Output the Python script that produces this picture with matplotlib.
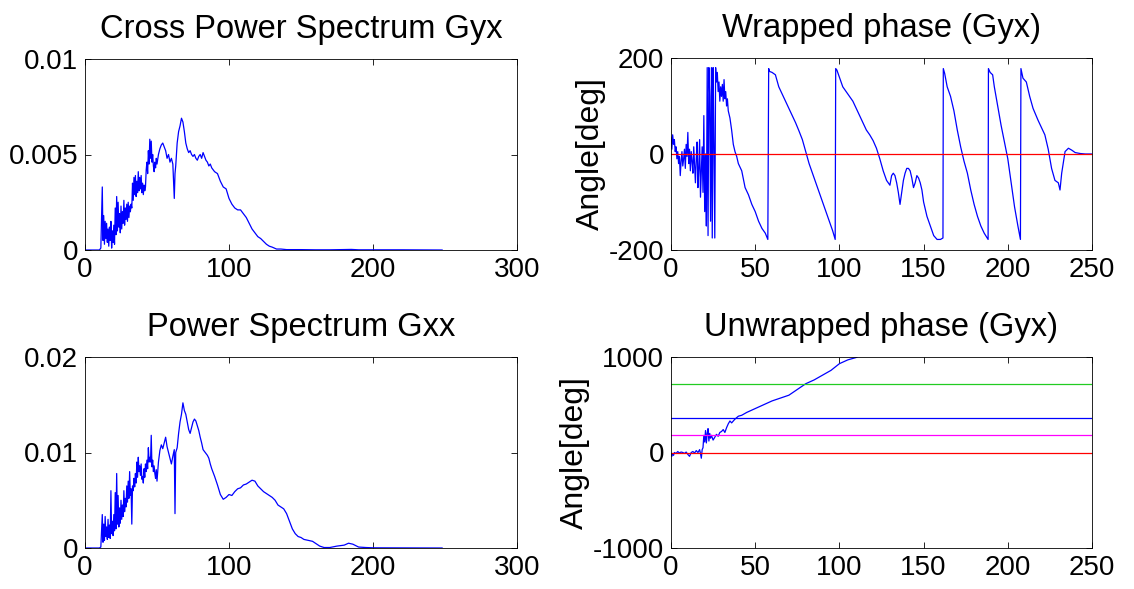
import numpy as np
import matplotlib.pyplot as plt

plt.rcParams['font.family'] = ['Liberation Sans', 'DejaVu Sans']
plt.rcParams['axes.unicode_minus'] = False

# Cross power spectrum Gyx (values in 1e-3)
gyx_f = [0, 5, 10, 11, 12, 12.5, 13, 13.5, 14, 14.5,
         15, 15.5, 16, 16.5, 17, 17.5, 18, 18.5, 19, 19.5,
         20, 20.5, 21, 21.5, 22, 22.5, 23, 23.5, 24, 24.5,
         25, 25.5, 26, 26.5, 27, 27.5, 28, 28.5, 29, 29.5,
         30, 30.5, 31, 31.5, 32, 32.5, 33, 33.5, 34, 34.5,
         35, 35.5, 36, 36.5, 37, 37.5, 38, 38.5, 39, 39.5,
         40, 40.5, 41, 41.5, 42, 42.5, 43, 43.5, 44, 44.5,
         45, 45.5, 46, 46.5, 47, 47.5, 48, 48.5, 49, 49.5,
         50, 51, 52, 53, 54, 55, 56, 57, 58, 59,
         60, 61, 62, 62.5, 63, 64, 65, 66, 67, 68,
         69, 70, 71, 72, 73, 74, 75, 76, 77, 78,
         79, 80, 81, 82, 83, 84, 85, 86, 87, 88,
         89, 90, 92, 94, 96, 98, 100, 102, 104, 106,
         108, 110, 112, 114, 116, 118, 120, 122, 124, 126,
         128, 130, 133, 136, 140, 150, 160, 170, 180, 185,
         190, 200, 220, 248]
gyx_val = [0, 0, 0, 0.1, 3.3, 0.5, 1.8, 0.3, 1.5, 0.6,
           1.4, 0.4, 1.1, 0.2, 1.2, 0.5, 1.5, 0.1, 1.0, 0.4,
           1.3, 0.3, 2.2, 0.8, 2.8, 1.0, 2.5, 1.2, 1.9, 0.9,
           2.3, 1.1, 2.0, 1.4, 2.6, 1.3, 2.2, 1.6, 2.4, 1.5,
           2.5, 1.7, 2.3, 2.0, 2.4, 2.2, 3.5, 2.6, 3.8, 2.9,
           3.9, 2.8, 3.6, 3.0, 4.1, 3.1, 3.8, 3.2, 3.9, 3.0,
           3.5, 2.9, 3.4, 3.1, 3.3, 4.2, 4.6, 4.0, 5.2, 4.5,
           5.8, 4.8, 5.7, 4.6, 5.0, 4.4, 4.1, 4.6, 4.3, 4.8,
           4.5, 5.0, 5.3, 5.5, 5.6, 5.4, 5.2, 4.8, 5.0, 4.6,
           4.8, 4.5, 2.7, 4.0, 4.4, 5.6, 6.2, 6.5, 6.9, 6.7,
           6.2, 5.6, 5.3, 5.1, 5.2, 5.0, 4.9, 5.0, 4.8, 4.7,
           4.9, 5.0, 4.8, 5.1, 4.9, 4.7, 4.6, 4.4, 4.5, 4.3,
           4.2, 4.1, 4.0, 3.6, 3.3, 3.2, 2.7, 2.4, 2.2, 2.1,
           2.1, 1.9, 1.7, 1.4, 1.1, 0.9, 0.7, 0.6, 0.45, 0.3,
           0.2, 0.15, 0.05, 0.05, 0.02, 0.02, 0.01, 0.01, 0.02, 0.03,
           0.01, 0.01, 0.01, 0.0]

# Power spectrum Gxx (values in 1e-3)
gxx_f = [0, 5, 10, 11, 12, 12.5, 13, 13.5, 14, 14.5,
         15, 15.5, 16, 16.5, 17, 17.5, 18, 18.5, 19, 19.5,
         20, 20.5, 21, 21.5, 22, 22.5, 23, 23.5, 24, 24.5,
         25, 25.5, 26, 26.5, 27, 27.5, 28, 28.5, 29, 29.5,
         30, 30.5, 31, 31.5, 32, 32.5, 33, 33.5, 34, 34.5,
         35, 35.5, 36, 36.5, 37, 37.5, 38, 38.5, 39, 39.5,
         40, 40.5, 41, 41.5, 42, 42.5, 43, 43.5, 44, 44.5,
         45, 45.5, 46, 46.5, 47, 47.5, 48, 48.5, 49, 49.5,
         50, 51, 52, 53, 54, 55, 56, 57, 58, 59,
         60, 61, 62, 62.5, 63, 64, 65, 66, 67, 68,
         69, 70, 71, 72, 73, 74, 75, 76, 77, 78,
         79, 80, 81, 82, 83, 84, 85, 86, 87, 88,
         89, 90, 92, 94, 96, 98, 100, 102, 104, 106,
         108, 110, 112, 114, 116, 118, 120, 122, 124, 126,
         128, 130, 132, 134, 136, 138, 140, 142, 144, 146,
         148, 150, 152, 155, 158, 160, 163, 166, 170, 175,
         180, 183, 186, 190, 195, 200, 220, 248]
gxx_val = [0, 0, 0, 0.1, 3.5, 0.6, 2.5, 0.8, 3.3, 1.2,
           2.2, 0.9, 3.0, 1.1, 2.4, 1.0, 6.0, 1.5, 2.8, 1.3,
           3.5, 1.8, 5.8, 2.0, 7.8, 2.5, 5.5, 2.2, 4.2, 2.6,
           5.0, 3.0, 4.5, 3.3, 6.0, 3.8, 5.2, 4.3, 6.5, 4.8,
           7.0, 5.2, 8.0, 5.5, 6.2, 2.5, 6.5, 6.0, 7.3, 6.4,
           7.8, 6.8, 9.0, 7.4, 9.5, 8.0, 8.6, 7.6, 8.8, 7.2,
           7.5, 6.8, 8.3, 7.4, 8.8, 8.0, 9.2, 8.3, 10.5, 9.0,
           9.5, 9.0, 11.8, 8.5, 9.2, 8.0, 8.6, 7.8, 7.3, 8.2,
           7.0, 9.0, 10.2, 10.8, 10.4, 11.0, 11.6, 10.6, 10.0, 9.4,
           8.8, 9.6, 10.3, 3.6, 10.0, 10.5, 12.0, 13.2, 14.0, 15.2,
           14.4, 14.0, 13.2, 12.4, 12.0, 12.6, 13.2, 13.5, 13.3, 12.8,
           12.3, 11.6, 11.0, 10.3, 10.1, 9.9, 9.7, 9.4, 8.8, 8.3,
           7.9, 7.5, 6.6, 5.6, 5.1, 5.3, 5.6, 5.5, 5.9, 6.2,
           6.3, 6.6, 6.7, 6.9, 7.1, 7.0, 6.5, 6.2, 5.9, 5.7,
           5.5, 5.3, 5.0, 4.5, 4.3, 4.1, 3.6, 2.8, 2.0, 1.5,
           1.2, 1.1, 0.9, 0.8, 0.7, 0.5, 0.2, 0.05, 0.05, 0.2,
           0.3, 0.5, 0.4, 0.1, 0.05, 0.02, 0.01, 0.0]

# Wrapped phase of Gyx (deg)
wr_f = [0, 0.5, 1, 1.5, 2, 2.5, 3, 3.5, 4, 4.5,
        5, 5.5, 6, 6.5, 7, 7.5, 8, 8.5, 9, 9.5,
        10, 10.5, 11, 11.5, 12, 12.5, 13, 13.5, 14, 14.5,
        15, 15.5, 16, 16.5, 17, 17.5, 18, 18.5, 19, 19.5,
        20, 20.5, 21, 21.5, 22, 22.5, 23, 23.5, 24, 24.5,
        25, 25.5, 26, 26.5, 27, 27.5, 28, 28.5, 29, 29.5,
        30, 30.5, 31, 31.5, 32, 32.5, 33, 33.5, 34, 35,
        36, 37, 38, 39, 40, 42, 44, 46, 48, 50,
        52, 54, 56, 57.5, 58, 58.5, 60, 62, 64, 66,
        68, 70, 72, 74, 76, 78, 80, 82, 84, 86,
        88, 90, 92, 94, 96, 97.5, 97.8, 98.5, 100, 102,
        104, 106, 108, 110, 112, 114, 116, 118, 120, 122,
        124, 126, 128, 130, 131, 132, 133, 134, 135, 136,
        137, 138, 139, 140, 141, 142, 143, 144, 145, 146,
        147, 148, 149, 150, 152, 154, 156, 158, 160, 161.5,
        161.7, 162.5, 164, 166, 168, 170, 172, 174, 176, 178,
        180, 182, 184, 186, 188.3, 188.5, 189.5, 191, 192, 194,
        196, 198, 200, 202, 204, 206, 207.5, 207.8, 209, 211,
        213, 215, 218, 220, 222, 224, 226, 228, 230, 231,
        232, 234, 236, 238, 240, 243, 246, 250]
wr_deg = [35, 10, 40, 20, 30, 5, 15, -10, 5, -20,
          -5, -45, -15, 5, -25, -10, 10, -30, 20, -5,
          45, -20, 10, -35, 5, -15, -40, 15, -25, -60,
          -10, 25, -70, -30, 30, -90, -40, 15, -80, 80,
          -120, 0, -150, 180, -170, 180, 120, -140, 180, -175,
          180, 20, -175, 180, 150, 170, 130, 150, 110, 140,
          120, 145, 110, 155, 115, 130, 100, 115, 90, 75,
          50, 20, 5, -5, -20, -35, -70, -85, -105, -120,
          -140, -155, -165, -178, 178, 172, 170, 165, 140, 125,
          110, 95, 80, 65, 48, 30, 5, -20, -40, -60,
          -80, -100, -120, -140, -160, -178, 178, 175, 160, 140,
          130, 120, 110, 95, 80, 65, 50, 40, 28, 12,
          -10, -35, -55, -65, -45, -40, -45, -60, -80, -105,
          -80, -55, -40, -30, -30, -35, -50, -70, -60, -45,
          -50, -60, -75, -100, -130, -150, -170, -178, -178, -175,
          178, 168, 140, 120, 90, 50, 15, -15, -40, -75,
          -105, -130, -150, -165, -178, 178, 170, 165, 140, 100,
          60, 25, -10, -60, -110, -150, -178, 178, 158, 150,
          120, 95, 70, 55, 40, 10, -30, -55, -60, -75,
          -40, 5, 12, 8, 3, 1, 0, 0]

# Unwrapped phase of Gyx (deg)
uw_f = [0, 0.5, 1, 1.5, 2, 3, 4, 5, 6, 7,
        8, 9, 10, 11, 12, 13, 14, 15, 16, 17,
        17.5, 18, 18.5, 19, 19.5, 20, 20.5, 21, 21.5, 22,
        22.5, 23, 23.5, 24, 25, 26, 27, 28, 29, 30,
        31, 32, 33, 34, 35, 36, 38, 40, 42, 45,
        50, 55, 60, 65, 70, 75, 80, 85, 90, 95,
        100, 105, 110, 115, 120]
uw_deg = [-20, -40, -10, -30, 0, -10, 10, -5, 5, 0,
          -10, 5, -20, -40, 0, 10, -5, 20, 0, 30,
          -10, -60, 30, 50, 180, 110, 230, 100, 200, 250,
          120, 200, 150, 180, 130, 160, 190, 170, 210, 220,
          240, 210, 260, 300, 330, 310, 350, 380, 390, 420,
          460, 500, 540, 570, 600, 660, 720, 760, 810, 860,
          930, 970, 995, 1050, 1100]

ref_levels = [0, 180, 360, 720]
ref_colors = ['#ff0000', '#ff00ff', '#0000ff', '#22cc22']

fig = plt.figure(figsize=(11.34, 5.89), dpi=100)
W, H = 1134.0, 589.0


def make_ax(l, t, r, b):
    return fig.add_axes([l / W, 1 - b / H, (r - l) / W, (b - t) / H])


def style(ax):
    ax.tick_params(direction='in', top=True, right=True, labelsize=20,
                   length=4, width=0.6, pad=5)
    for s in ax.spines.values():
        s.set_linewidth(0.6)


ax1 = make_ax(85, 59, 517, 250)
ax1.plot(gyx_f, np.array(gyx_val) * 1e-3, color='#0000ff', lw=0.9)
ax1.set_xlim(0, 300)
ax1.set_ylim(0, 0.01)
ax1.set_xticks([0, 100, 200, 300])
ax1.set_yticks([0, 0.005, 0.01])
ax1.set_yticklabels(['0', '0.005', '0.01'])
ax1.set_title('Cross Power Spectrum Gyx', fontsize=23.5, pad=15)
style(ax1)

ax2 = make_ax(671, 58, 1092, 250)
ax2.plot(wr_f, wr_deg, color='#0000ff', lw=0.9)
ax2.plot([0, 250], [0, 0], color='#ff0000', lw=0.9)
ax2.set_xlim(0, 250)
ax2.set_ylim(-200, 200)
ax2.set_xticks([0, 50, 100, 150, 200, 250])
ax2.set_yticks([-200, 0, 200])
ax2.set_title('Wrapped phase (Gyx)', fontsize=23.5, pad=15)
ax2.set_ylabel('Angle[deg]', fontsize=23, fontweight='medium', labelpad=2)
style(ax2)

ax3 = make_ax(85, 357, 517, 548)
ax3.plot(gxx_f, np.array(gxx_val) * 1e-3, color='#0000ff', lw=0.9)
ax3.set_xlim(0, 300)
ax3.set_ylim(0, 0.02)
ax3.set_xticks([0, 100, 200, 300])
ax3.set_yticks([0, 0.01, 0.02])
ax3.set_yticklabels(['0', '0.01', '0.02'])
ax3.set_title('Power Spectrum Gxx', fontsize=23.5, pad=15)
style(ax3)

ax4 = make_ax(671, 357, 1092, 548)
ax4.plot(uw_f, uw_deg, color='#0000ff', lw=0.9)
for lev, c in zip(ref_levels, ref_colors):
    ax4.plot([0, 250], [lev, lev], color=c, lw=0.9)
ax4.set_xlim(0, 250)
ax4.set_ylim(-1000, 1000)
ax4.set_xticks([0, 50, 100, 150, 200, 250])
ax4.set_yticks([-1000, 0, 1000])
ax4.set_title('Unwrapped phase (Gyx)', fontsize=23.5, pad=15)
ax4.set_ylabel('Angle[deg]', fontsize=23, fontweight='medium', labelpad=2)
style(ax4)

fig.savefig('out.png', dpi=100)
